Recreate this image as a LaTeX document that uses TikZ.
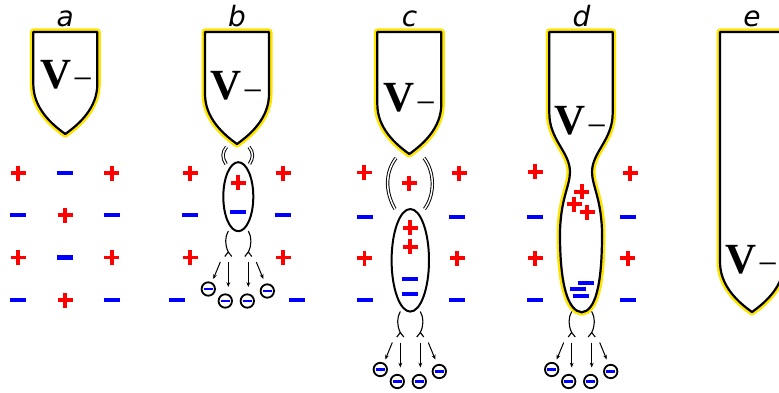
\documentclass[tikz,border=0pt]{standalone}
\usepackage{fontspec}
\usetikzlibrary{arrows.meta}
\newfontfamily\labelfont{DejaVu Sans}
\newfontfamily\vfont{Liberation Serif}
\definecolor{glow}{RGB}{255,228,0}
\definecolor{pred}{RGB}{255,0,0}
\definecolor{nblue}{RGB}{0,0,255}

\tikzset{
  glowline/.style={draw=glow, line width=7pt, line join=round},
  bodyline/.style={draw=black, fill=white, line width=2.2pt, line join=round},
  streak/.style={draw=black, line width=1.1pt},
  flow/.style={draw=black, line width=1pt, -{Stealth[length=4.8pt,width=3.8pt]}},
  dbl/.style={draw=black, double=white, double distance=1.5pt, line width=0.95pt},
  channel/.style={draw=black, line width=2pt},
  panellabel/.style={anchor=base, inner sep=0pt, font=\labelfont\itshape\fontsize{28}{28}\selectfont},
  vlabel/.style={anchor=base west, inner sep=0pt},
  poscharge/.pic={\draw[pred, line width=3.8pt] (-7.5,0) -- (7.5,0) (0,-7.5) -- (0,7.5);},
  negcharge/.pic={\draw[nblue, line width=4.2pt] (-8,0) -- (8,0);},
  electron/.pic={\draw[black, line width=1.8pt, fill=white] (0,0) circle (6.7pt);
                 \draw[nblue, line width=2.8pt] (-4.5,0) -- (4.5,0);}
}

% electrode body: left edge x, tip y (top edge at y=32, width 64)
\newcommand\probebody[2]{%
  \draw[glowline] (#1,32) -- (#1,#2-50) .. controls (#1,#2-26) and (#1+18,#2-10) .. (#1+32,#2)
    .. controls (#1+46,#2-10) and (#1+64,#2-26) .. (#1+64,#2-50) -- (#1+64,32) -- cycle;
  \draw[bodyline] (#1,32) -- (#1,#2-50) .. controls (#1,#2-26) and (#1+18,#2-10) .. (#1+32,#2)
    .. controls (#1+46,#2-10) and (#1+64,#2-26) .. (#1+64,#2-50) -- (#1+64,32) -- cycle;}

% branching streamers with the electrons they release, below point (x,y)
\newcommand\dischargeat[2]{%
  \begin{scope}[shift={(#1,#2)}]
    \draw[streak] (-10,0) .. controls (-13.5,6) and (-13.5,14) .. (-10,21) -- (-13.5,25.5)
                  (-10,21) -- (-6.5,25.5);
    \draw[streak] (10,0) .. controls (13.5,6) and (13.5,14) .. (10,21) -- (13.5,25.5)
                  (10,21) -- (6.5,25.5);
    \draw[flow] (-18,31) -- (-25,48);
    \draw[flow] (-10,31) -- (-10,56);
    \draw[flow] (10,31) -- (10,56);
    \draw[flow] (18,31) -- (25,48);
    \pic at (-30,58) {electron};
    \pic at (-13,70) {electron};
    \pic at (9,70) {electron};
    \pic at (29,60) {electron};
  \end{scope}}

\newcommand\vminus{{\vfont\bfseries\fontsize{43}{43}\selectfont V}\hspace{1.5pt}\raisebox{-2.5pt}{\vfont\fontsize{35}{35}\selectfont −}}

\begin{document}
\begin{tikzpicture}[x=1pt, y=-1pt]
\useasboundingbox (0,0) rectangle (779,393);
\clip (0,0) rectangle (779,393);

% ---------- panel labels ----------
\node[panellabel] (la) at (65.3,26.5) {a};
\node[panellabel] (lb) at (237,26.5) {b};
\node[panellabel] (lc) at (409.5,26.5) {c};
\node[panellabel] (ld) at (581.5,26.5) {d};
\node[panellabel] (le) at (752,26.5) {e};

% ---------- a ----------
\probebody{33.3}{134}
\node[vlabel] (va) at (40,88.5) {\vminus};
\foreach \x/\k in {18.3/poscharge,65/negcharge,111.7/poscharge} \pic at (\x,173) {\k};
\foreach \x/\k in {18.3/negcharge,65/poscharge,111.7/negcharge} \pic at (\x,215) {\k};
\foreach \x/\k in {18.3/poscharge,65/negcharge,111.7/poscharge} \pic at (\x,257.5) {\k};
\foreach \x/\k in {18.3/negcharge,65/poscharge,111.7/negcharge} \pic at (\x,300) {\k};

% ---------- b ----------
\probebody{205}{144}
\node[vlabel] (vb) at (210,100) {\vminus};
\draw[dbl] (226.5,147) .. controls (222,152) and (222,158) .. (226,164);
\draw[dbl] (249,147) .. controls (253.5,152) and (253.5,158) .. (249.5,164);
\draw[channel] (238.3,196.7) ellipse [x radius=15, y radius=34.5];
\pic at (238.3,182.7) {poscharge};
\pic at (238.3,212.3) {negcharge};
\pic at (190,173.3) {poscharge};   \pic at (283.3,173.3) {poscharge};
\pic at (190,215) {negcharge};     \pic at (283.3,215) {negcharge};
\pic at (190,257.5) {poscharge};   \pic at (283.3,257.5) {poscharge};
\pic at (176.7,300) {negcharge};   \pic at (296.7,300) {negcharge};
\dischargeat{238.3}{231}

% ---------- c ----------
\probebody{377.3}{154}
\node[vlabel] (vc) at (383,112) {\vminus};
\draw[dbl] (396,158) .. controls (385,172) and (385,192) .. (395,209);
\draw[dbl] (424,158) .. controls (435,172) and (435,195) .. (424.5,209);
\pic at (409.3,183.3) {poscharge};
\draw[channel] (410.3,260.3) ellipse [x radius=18.7, y radius=51.3];
\pic at (410,227.7) {poscharge};
\pic at (410,246.7) {poscharge};
\pic at (410,279.3) {negcharge};
\pic at (410,294) {negcharge};
\pic at (364,172.5) {poscharge};   \pic at (459,173) {poscharge};
\pic at (364.5,217.3) {negcharge}; \pic at (457,217.3) {negcharge};
\pic at (364.5,258.3) {poscharge}; \pic at (457,258.3) {poscharge};
\pic at (364.5,300) {negcharge};   \pic at (457,300) {negcharge};
\dischargeat{410.3}{311.5}

% ---------- d ----------
\foreach \sty in {glowline,bodyline}
  \draw[\sty] (549.3,32) -- (549.3,113) .. controls (549.3,140) and (570,152) .. (570,172)
    .. controls (570,186) and (560,200) .. (560,235)
    .. controls (560,285) and (568,311) .. (581.7,312.3)
    .. controls (595.4,311) and (602,285) .. (602,235)
    .. controls (602,200) and (592,186) .. (592,172)
    .. controls (592,152) and (612.7,140) .. (612.7,113) -- (612.7,32) -- cycle;
\node[vlabel] (vd) at (554,135) {\vminus};
\pic at (581.7,191.7) {poscharge};
\pic at (574,204) {poscharge};
\pic at (587.3,212.3) {poscharge};
\pic at (586,282.7) {negcharge};
\pic at (578.3,288.7) {negcharge};
\pic at (580.7,296) {negcharge};
\pic at (535,171.7) {poscharge};   \pic at (630,173.3) {poscharge};
\pic at (535,217.3) {negcharge};   \pic at (627.7,217.3) {negcharge};
\pic at (535,258.3) {poscharge};   \pic at (627.7,258.3) {poscharge};
\pic at (535,300) {negcharge};     \pic at (627.7,300) {negcharge};
\dischargeat{581.7}{311.5}

% ---------- e ----------
\probebody{720}{312}
\node[vlabel] (ve) at (725,273) {\vminus};
\end{tikzpicture}
\end{document}
